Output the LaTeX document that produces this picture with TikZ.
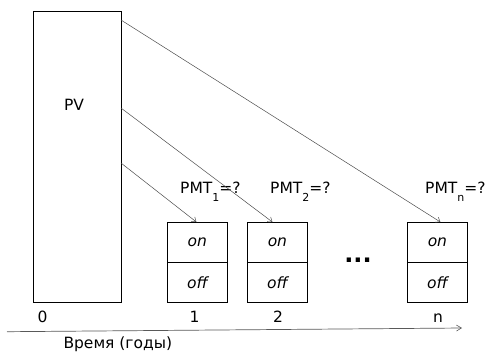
\documentclass[tikz,border=0pt]{standalone}
\usepackage{fontspec}
\setmainfont{DejaVu Sans}
\usetikzlibrary{arrows.meta,calc}
\newcommand{\lowsub}[1]{\raisebox{-8.6pt}{\fontsize{11}{12}\selectfont #1}}
\tikzset{
  txt/.style={inner sep=0pt, font=\fontsize{15.5}{18}\selectfont},
  bigbox/.style={draw=black, line width=0.8pt, inner sep=0pt},
  halfbox/.style={draw=black, line width=0.8pt, inner sep=0pt,
    minimum width=60pt, minimum height=39.5pt,
    font=\fontsize{15.5}{18}\selectfont\itshape},
  flow/.style={draw=black!70, line width=0.5pt,
    -{Straight Barb[length=4pt,width=6pt,line width=0.5pt]}},
  axis/.style={draw=black!65, line width=0.7pt,
    -{Straight Barb[length=5pt,width=6pt,line width=0.6pt]}}
}
\begin{document}
\begin{tikzpicture}[x=1pt,y=-1pt]
  \useasboundingbox (0,0) rectangle (487,360);

  % present value block
  \node[bigbox, minimum width=88pt, minimum height=291pt, anchor=north west]
    (pv) at (33,11) {};
  \node[txt, anchor=base] (pvl) at (74,110.7) {PV};

  % payment boxes, each split into an "on" and an "off" half
  \node[halfbox, anchor=north west] (on1) at (167,222) {on};
  \node[halfbox, anchor=north] (off1) at (on1.south) {off};
  \node[halfbox, anchor=north west] (on2) at (247,222) {on};
  \node[halfbox, anchor=north] (off2) at (on2.south) {off};
  \node[halfbox, anchor=north west] (onn) at (407,222) {on};
  \node[halfbox, anchor=north] (offn) at (onn.south) {off};

  \node[inner sep=0pt, font=\fontsize{24}{26}\selectfont\bfseries]
    (dots) at (358,260) {...};

  % payment labels
  \node[txt, anchor=base west] (pmt1) at (180,193.3) {PMT\lowsub{1}=?};
  \node[txt, anchor=base west] (pmt2) at (270,193.3) {PMT\lowsub{2}=?};
  \node[txt, anchor=base west] (pmtn) at (425,193.3) {PMT\lowsub{n}=?};

  % discounting links from PV to each payment
  \coordinate (s1) at (121,163);
  \coordinate (s2) at (121,108);
  \coordinate (sn) at (121,20);
  \draw[flow] (s1) -- ([xshift=-1pt]on1.north);
  \draw[flow] (s2) -- ([xshift=-5pt]on2.north);
  \draw[flow] (sn) -- ([xshift=3pt]onn.north);

  % time axis
  \node[txt, anchor=base] (t0) at (42.5,322.7) {0};
  \node[txt, anchor=base] (t1) at (194.5,322.7) {1};
  \node[txt, anchor=base] (t2) at (278,322.7) {2};
  \node[txt, anchor=base] (tn) at (438,322.7) {n};
  \coordinate (a0) at (7,331.7);
  \coordinate (a1) at (462,328);
  \draw[axis] (a0) -- (a1);
  \node[txt, anchor=base west] (cap) at (63.3,348.3) {Время (годы)};
\end{tikzpicture}
\end{document}
